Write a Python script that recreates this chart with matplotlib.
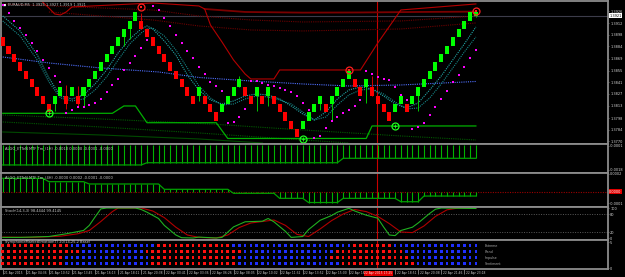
import matplotlib
matplotlib.use('Agg')
import matplotlib.pyplot as plt
import numpy as np

# renko bricks, 10 pips each
opens = [1.3895, 1.3885, 1.3875, 1.3865, 1.3855, 1.3845, 1.3835, 1.3825, 1.3815,
         1.3815, 1.3825, 1.3825, 1.3825, 1.3825, 1.3825, 1.3835, 1.3845, 1.3855,
         1.3865, 1.3875, 1.3885, 1.3895, 1.3905, 1.3915,
         1.3915, 1.3905, 1.3895, 1.3885, 1.3875, 1.3865, 1.3855, 1.3845, 1.3835, 1.3825,
         1.3825, 1.3825, 1.3815, 1.3805, 1.3805, 1.3815, 1.3825, 1.3835,
         1.3835, 1.3825, 1.3825, 1.3825, 1.3825, 1.3825, 1.3815, 1.3805, 1.3795, 1.3785,
         1.3785, 1.3795, 1.3805, 1.3815, 1.3815, 1.3815, 1.3825, 1.3835, 1.3845,
         1.3845, 1.3835, 1.3835, 1.3835, 1.3825, 1.3815, 1.3805,
         1.3805, 1.3815, 1.3815, 1.3815, 1.3825, 1.3835, 1.3845, 1.3855, 1.3865, 1.3875,
         1.3885, 1.3895, 1.3905, 1.3915, 1.3921]
closes = [1.3885, 1.3875, 1.3865, 1.3855, 1.3845, 1.3835, 1.3825, 1.3815, 1.3805,
          1.3825, 1.3835, 1.3815, 1.3835, 1.3815, 1.3835, 1.3845, 1.3855, 1.3865,
          1.3875, 1.3885, 1.3895, 1.3905, 1.3915, 1.3925,
          1.3905, 1.3895, 1.3885, 1.3875, 1.3865, 1.3855, 1.3845, 1.3835, 1.3825, 1.3815,
          1.3835, 1.3815, 1.3805, 1.3795, 1.3815, 1.3825, 1.3835, 1.3845,
          1.3825, 1.3815, 1.3835, 1.3815, 1.3835, 1.3815, 1.3805, 1.3795, 1.3785, 1.3775,
          1.3795, 1.3805, 1.3815, 1.3825, 1.3805, 1.3825, 1.3835, 1.3845, 1.3855,
          1.3835, 1.3825, 1.3845, 1.3825, 1.3815, 1.3805, 1.3795,
          1.3815, 1.3825, 1.3805, 1.3825, 1.3835, 1.3845, 1.3855, 1.3865, 1.3875, 1.3885,
          1.3895, 1.3905, 1.3915, 1.3925, 1.3925]

wick_bars = [9, 11, 13, 14, 21, 22, 24, 34, 41, 44, 46, 55, 57, 63, 64, 72, 82]
wick_lows = [1.3807, 1.3809, 1.3811, 1.3812, 1.3884, 1.3893, 1.3905, 1.3818, 1.3835,
             1.3806, 1.3813, 1.3808, 1.3796, 1.3816, 1.3825, 1.3806, 1.3919]
wick_highs = [1.3825, 1.3838, 1.3836, 1.3835, 1.3905, 1.3915, 1.3924, 1.3835, 1.3848,
              1.3835, 1.3835, 1.3825, 1.3825, 1.3845, 1.3848, 1.3835, 1.3927]

# parabolic SAR, one dot per brick
sar = [1.3934, 1.39246, 1.3915, 1.3906, 1.38978, 1.38878, 1.38786, 1.38678, 1.38585, 1.38486,
       1.3841, 1.38045, 1.38078, 1.3811, 1.38117, 1.38138, 1.38165, 1.38213, 1.3829, 1.38374,
       1.3845, 1.38558, 1.38645, 1.38726, 1.38822, 1.38918, 1.3932, 1.3928, 1.3918, 1.39086,
       1.3898, 1.38886, 1.3879, 1.38698, 1.38597, 1.3851, 1.38417, 1.3836, 1.383, 1.3792,
       1.37935, 1.37997, 1.38086, 1.38426, 1.3842, 1.384, 1.3838, 1.3836, 1.3834, 1.3832,
       1.3829, 1.3824, 1.3816, 1.3808, 1.3774, 1.37765, 1.37858, 1.37946, 1.3799, 1.3804,
       1.3808, 1.38126, 1.38198, 1.3855, 1.3851, 1.38477, 1.3845, 1.38438, 1.3835, 1.38258,
       1.382, 1.37855, 1.37877, 1.37925, 1.38018, 1.3811, 1.3821, 1.3831, 1.3841, 1.38498,
       1.38597, 1.38698, 1.38798]

# moving averages, read at these bars
ma_bars = [0, 3, 6, 8, 10, 12, 14, 16, 18, 20, 22, 24, 25, 26, 28, 30, 32, 34, 36, 38, 40,
           42, 44, 46, 48, 50, 52, 54, 56, 58, 60, 62, 64, 66, 68, 70, 72, 74, 76, 78, 80, 82]
ma_fast = [1.39206, 1.39026, 1.38738, 1.38462, 1.38246, 1.3821, 1.38258, 1.3839, 1.38558,
           1.38762, 1.3893, 1.3905, 1.39086, 1.3905, 1.38906, 1.38738, 1.38498, 1.38318,
           1.38198, 1.3815, 1.38186, 1.38246, 1.3827, 1.38258, 1.3821, 1.38126, 1.3803,
           1.37958, 1.38054, 1.3821, 1.38318, 1.38354, 1.3833, 1.38246, 1.3815, 1.38102,
           1.38162, 1.38318, 1.38486, 1.38678, 1.3887, 1.39074]
ma_slow = [1.39146, 1.38966, 1.38678, 1.38414, 1.38222, 1.38186, 1.3821, 1.38318, 1.38474,
           1.38678, 1.3887, 1.39002, 1.3905, 1.39062, 1.38966, 1.38798, 1.38582, 1.38366,
           1.38222, 1.38138, 1.3815, 1.3821, 1.38246, 1.38234, 1.38198, 1.3815, 1.38054,
           1.37958, 1.37994, 1.38138, 1.38258, 1.38318, 1.3833, 1.3827, 1.38174, 1.3809,
           1.38102, 1.38222, 1.3839, 1.38582, 1.38774, 1.38954]
long_bars = [0, 8, 17, 27, 34, 43, 52, 60, 69, 82]
ma_long = [1.38714, 1.38642, 1.38582, 1.38534, 1.38468, 1.38426, 1.3839, 1.38366, 1.38378, 1.3842]

# channel lines above price
ra_bars = [6, 8, 9, 10, 11, 12, 26, 34, 35, 36, 38, 40, 42, 43, 47, 48, 62, 65, 69, 82]
ra_vals = [1.39434, 1.39302, 1.3923, 1.39218, 1.39254, 1.39314, 1.39362, 1.39326, 1.3929,
           1.39098, 1.38894, 1.38678, 1.3851, 1.3845, 1.3845, 1.38558, 1.38558, 1.38882,
           1.39278, 1.3935]
rb_bars = [35, 42, 52, 62, 72, 82]
rb_vals = [1.3929, 1.39254, 1.39246, 1.39248, 1.39254, 1.39258]
d1_bars = [0, 17, 26, 34, 43, 52, 69, 82]
d1_vals = [1.3935, 1.39302, 1.39278, 1.39206, 1.39158, 1.39134, 1.39146, 1.39206]
d2_bars = [8, 26, 34, 43, 52, 69, 82]
d2_vals = [1.39254, 1.39158, 1.39086, 1.39038, 1.39026, 1.3905, 1.39122]

# channel lines below price
g1_bars = [0, 19, 21, 23, 25, 37, 39, 63, 64, 82]
g1_vals = [1.38038, 1.38038, 1.38126, 1.38126, 1.37925, 1.37925, 1.37736, 1.37736, 1.37886, 1.37886]
g2_bars = [0, 17, 36, 52, 69, 82]
g2_vals = [1.38018, 1.3797, 1.3791, 1.37838, 1.37766, 1.37718]
g3_bars = [0, 17, 34, 52, 60]
g3_vals = [1.37934, 1.37874, 1.37802, 1.37718, 1.37682]
g4_bars = [0, 17, 34, 45]
g4_vals = [1.37814, 1.37778, 1.3773, 1.37682]

# signal circles
sell_bars = [24, 60, 82]
sell_price = [1.39317, 1.38558, 1.39269]
buy_bars = [8, 52, 68]
buy_price = [1.38045, 1.37726, 1.37886]

bid = 1.3921
cursor_bar = 64.8
price_ticks = [1.3770, 1.3784, 1.3798, 1.3813, 1.3827, 1.3841, 1.3855, 1.3869,
               1.3884, 1.3898, 1.3912, 1.3926]

# ALGO trend histograms, each value holds from its start bar
h1_start = [0, 25, 59]
h1_vals = [-0.00147, -0.00131, -0.00099]
h4_start = [0, 8, 15, 28, 40, 48, 53, 59, 69, 73]
h4_vals = [0.000151, 0.000113, 0.000087, 0.000027, -0.000018, -0.000075,
           -0.000122, -0.000075, -0.000113, -0.000049]

# stochastic
k_bars = [0, 3, 8, 11, 14, 15, 16, 17, 18, 23, 24, 25, 27, 28, 30, 31, 33, 34, 37, 38, 40,
          42, 45, 46, 47, 49, 50, 52, 53, 55, 57, 58, 60, 61, 63, 65, 66, 67, 68, 69, 71,
          72, 74, 75, 76, 82]
k_vals = [2, 2, 5, 14, 25, 42, 70, 97, 100, 100, 95, 86, 65, 42, 10, 1, 0, 3, 0, 2, 37,
          54, 56, 65, 54, 22, 2, 5, 28, 59, 75, 86, 99, 90, 76, 66, 37, 10, 8, 25, 36,
          50, 82, 96, 100, 98.4]
d_bars = [0, 5, 10, 13, 15, 17, 19, 20, 24, 26, 28, 30, 32, 34, 37, 39, 41, 43, 45, 47,
          49, 51, 53, 55, 57, 59, 61, 63, 65, 67, 69, 71, 73, 75, 77, 79, 82]
d_vals = [3, 2, 6, 14, 25, 55, 88, 100, 100, 90, 68, 36, 10, 2, 0, 10, 35, 50, 55, 60,
          42, 12, 5, 30, 58, 80, 95, 88, 72, 48, 20, 18, 40, 72, 94, 100, 99.4]

# market emotion rows (colour, run length)
emo_extreme = [('r', 12), ('b', 15), ('r', 13), ('b', 21), ('r', 7), ('b', 15)]
emo_trend = [('r', 14), ('b', 11), ('r', 17), ('b', 16), ('r', 12), ('b', 13)]
emo_impulse = [('r', 11), ('b', 15), ('r', 15), ('b', 16), ('r', 14), ('b', 12)]
emo_sentiment = [('r', 11), ('b', 15), ('r', 15), ('b', 18), ('r', 13), ('b', 11)]
emo_names = ['Extreme', 'Trend', 'Impulse', 'Sentiment']

time_bars = [0, 4, 8, 12, 16, 20, 24, 28, 32, 36, 40, 44, 48, 52, 56, 60, 68, 72, 76, 80]
time_labels = ['21 Apr 2015', '21 Apr 04:36', '21 Apr 10:52', '21 Apr 13:45', '21 Apr 16:13',
               '21 Apr 18:11', '21 Apr 20:38', '22 Apr 00:41', '22 Apr 03:36', '22 Apr 06:26',
               '22 Apr 08:05', '22 Apr 10:02', '22 Apr 11:32', '22 Apr 13:52', '22 Apr 15:00',
               '22 Apr 16:18', '22 Apr 18:51', '22 Apr 20:08', '22 Apr 21:46', '22 Apr 23:18']
cursor_label = '22 Apr 2015 17:25'

n = len(opens)
x = np.arange(n)
W, H = 625.0, 277.0
TXT = '#c8c8c8'
fig = plt.figure(figsize=(W / 100, H / 100), dpi=100, facecolor='black')


def panel(top, bottom):
    ax = fig.add_axes([1 / W, 1 - bottom / H, 607 / W, (bottom - top) / H])
    ax.set_facecolor('black')
    for s in ax.spines.values():
        s.set_color('#8c8c8c')
        s.set_linewidth(1.3)
    ax.set_xlim(-0.3, 104.9)
    ax.yaxis.tick_right()
    ax.tick_params(axis='y', colors='#8c8c8c', labelcolor='#d8d8d8', labelsize=2.5,
                   length=1, width=0.5, pad=0.6)
    ax.tick_params(axis='x', bottom=False, labelbottom=False)
    ax.axvline(cursor_bar, color='#c80000', lw=0.8, zorder=2)
    return ax


def steps(starts, vals):
    return np.repeat(vals, np.diff(starts + [n]))


def title(ax, s, y=0.985):
    ax.text(0.006, y, s, transform=ax.transAxes, fontsize=2.6, color=TXT, va='top', ha='left')


# ---- main price window ----
ax = panel(0.5, 144)
ax.set_ylim(1.376696, 1.393916)
ax.set_yticks(price_ticks)
ax.set_yticklabels(['%.4f' % p for p in price_ticks])

ax.axhline(bid, color='#3c3c4a', lw=0.8, zorder=1)
ax.plot(d1_bars, d1_vals, color='#6a0000', lw=0.8, ls=(0, (1, 1)))
ax.plot(d2_bars, d2_vals, color='#6a0000', lw=0.8, ls=(0, (1, 1)))
ax.plot(rb_bars, rb_vals, color='#7a0000', lw=1.3)
ax.plot(ra_bars, ra_vals, color='#b40000', lw=0.8)
ax.plot(g4_bars, g4_vals, color='#004a00', lw=0.8)
ax.plot(g3_bars, g3_vals, color='#005a00', lw=0.8, ls=(0, (1, 1)))
ax.plot(g2_bars, g2_vals, color='#005a00', lw=0.8, ls=(0, (1, 1)))
ax.plot(g1_bars, g1_vals, color='#00b000', lw=0.9)
ax.plot(long_bars, ma_long, color='#5070ff', lw=0.8, ls=(0, (1, 1)))
ax.plot(ma_bars, ma_slow, color='#168888', lw=0.8, ls=(0, (1, 1)))
ax.plot(ma_bars, ma_fast, color='#22a8a8', lw=0.8, ls=(0, (1, 1)))

o = np.array(opens)
c = np.array(closes)
ax.bar(x, c - o, bottom=o, width=0.7, color=np.where(c >= o, '#00ff00', '#ff0000'),
       linewidth=0, zorder=4)
wick_col = ['#00c800' if closes[b] >= opens[b] else '#d00000' for b in wick_bars]
ax.vlines(wick_bars, wick_lows, wick_highs, colors=wick_col, lw=0.7, zorder=3)
ax.plot(x, sar, 's', ms=1.6, mew=0, color='#ff00ff', zorder=5)

ax.plot(sell_bars, sell_price, 'o', ms=5, mfc='none', mec='#ff2020', mew=0.9, zorder=6)
ax.plot(sell_bars, sell_price, 's', ms=1.5, mew=0, color='#ff2020', zorder=6)
ax.plot(buy_bars, buy_price, 'o', ms=5, mfc='none', mec='#20ff20', mew=0.9, zorder=6)
ax.plot(buy_bars, buy_price, '+', ms=3, mew=0.6, color='#20ff20', zorder=6)

ax.text(0.003, 0.982, '\u25a0', transform=ax.transAxes, fontsize=2.4, color='white', va='top')
ax.text(0.012, 0.985, 'EURAUD,M5  1.3925 1.3927 1.3919 1.3921', transform=ax.transAxes,
        fontsize=2.6, color=TXT, va='top')
ax.text(1.002, bid, '%.4f' % bid, transform=ax.get_yaxis_transform(), fontsize=2.5,
        color='black', va='center', ha='left',
        bbox=dict(boxstyle='square,pad=0.15', fc='white', ec='none'))

# ---- ALGO 1H histogram ----
ax2 = panel(144, 173)
ax2.set_ylim(-0.00205, 0.00004)
h1 = steps(h1_start, h1_vals)
ax2.vlines(x, 0, h1, colors='#00b400', lw=0.8)
ax2.plot(x, h1, color='#00a000', lw=0.9)
ax2.set_yticks([-0.0001, -0.0018])
ax2.set_yticklabels(['-0.0001', '-0.0018'])
title(ax2, 'ALGO_ETTeN MTF Tm_(1H) -0.0010 0.0000 -0.0001 -0.0000', 0.93)

# ---- ALGO 4H histogram ----
ax3 = panel(173, 206.5)
ax3.set_ylim(-0.000167, 0.000211)
h4 = steps(h4_start, h4_vals)
ax3.axhline(0, color='#9a0000', lw=0.8, ls=(0, (1, 1.2)))
ax3.vlines(x, 0, h4, colors='#00b400', lw=0.8)
ax3.plot(x, h4, color='#00a000', lw=0.9)
ax3.set_yticks([0.0002, -0.00013])
ax3.set_yticklabels(['0.0002', '-0.0001'])
ax3.text(1.002, 0, '0.0000', transform=ax3.get_yaxis_transform(), fontsize=2.5,
         color='white', va='center', ha='left',
         bbox=dict(boxstyle='square,pad=0.15', fc='#e00000', ec='none'))
title(ax3, 'ALGO_ETTeN MTF Tm_(4H) -0.0000 0.0002 -0.0001 -0.0000', 0.93)

# ---- stochastic ----
ax4 = panel(206.5, 239.5)
ax4.set_ylim(-5, 105)
ax4.axhline(80, color='#5a5a5a', lw=0.7, ls=(0, (1, 1.5)))
ax4.axhline(20, color='#5a5a5a', lw=0.7, ls=(0, (1, 1.5)))
ax4.plot(d_bars, d_vals, color='#b00000', lw=0.8)
ax4.plot(k_bars, k_vals, color='#20b020', lw=0.8)
ax4.set_yticks([100, 80, 20, 0])
ax4.set_yticklabels(['100', '80', '20', '0'])
title(ax4, 'Stoch(14,3,3) 98.4444 99.4145', 0.93)

# ---- market emotion dots ----
ax5 = panel(239.5, 269)
ax5.set_ylim(0.12, 5.03)
for row, runs in zip([4, 3, 2, 1], [emo_extreme, emo_trend, emo_impulse, emo_sentiment]):
    cols = []
    for k, m in runs:
        cols += [('#ff1010' if k == 'r' else '#1f2fff')] * m
    ax5.scatter(x, [row] * n, s=3.6, marker='s', c=cols, linewidths=0, zorder=3)
for row, name in zip([4, 3, 2, 1], emo_names):
    ax5.text(83.6, row, name, fontsize=2.3, color='#a8a8a8', va='center', ha='left')
ax5.set_yticks([4.6, 0.25])
ax5.set_yticklabels(['5', '0'])
title(ax5, 'SymphonieMarketEmotion(T) 20(14,25,2 Base)', 0.97)

# time axis
ax5.set_xticks(time_bars)
ax5.tick_params(axis='x', bottom=True, direction='out', length=3.5, width=0.5,
                color='#a0a0a0', labelbottom=False)
for b, s in zip(time_bars, time_labels):
    ax5.text(b + 0.25, -0.14, s, transform=ax5.get_xaxis_transform(), fontsize=2.2,
             color=TXT, va='center', ha='left')
ax5.text(cursor_bar + 0.3, -0.14, cursor_label, transform=ax5.get_xaxis_transform(),
         fontsize=2.2, color='#ffd8d8', va='center', ha='center', zorder=5,
         bbox=dict(boxstyle='square,pad=0.15', fc='#e00000', ec='none'))

fig.savefig('out.png', dpi=100, facecolor='black')
